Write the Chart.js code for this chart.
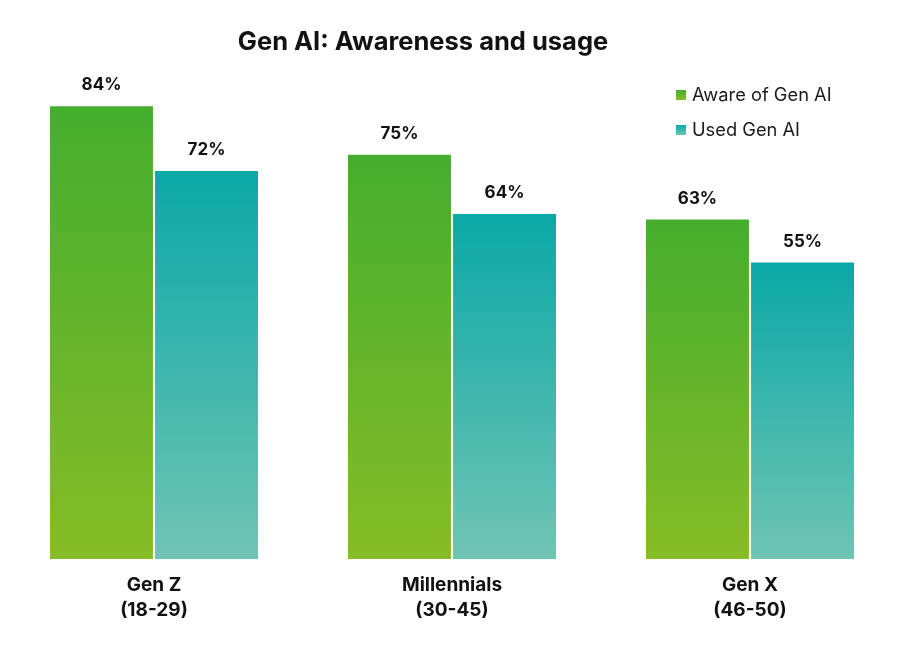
<!DOCTYPE html>
<html>
<head>
<meta charset="utf-8">
<script src="https://cdn.jsdelivr.net/npm/chart.js@4.4.1/dist/chart.umd.min.js"></script>
<style>
    html, body { margin: 0; padding: 0; background: #ffffff; }
    #wrap { width: 900px; height: 646px; }
</style>
</head>
<body>
<div id="wrap"><canvas id="myChart" width="900" height="646"></canvas></div>
<script>
var categories = [["Gen Z", "(18-29)"], ["Millennials", "(30-45)"], ["Gen X", "(46-50)"]];
var seriesNames = ["Aware of Gen AI", "Used Gen AI"];
var awareValues = [84, 75, 63];
var usedValues = [72, 64, 55];
var chartTitle = "Gen AI: Awareness and usage";

var FONT = "Inter, 'Liberation Sans', Arial, sans-serif";

//colours top -> bottom of each bar
var awareTop = "#44ae2d", awareBottom = "#86bc27";
var usedTop = "#0aa8a7", usedBottom = "#70c4b4";

function barGradient(context, topColor, bottomColor) {
    var chart = context.chart;
    var area = chart.chartArea;
    if (!area || context.raw === undefined) {
        return topColor;
    }
    var yTop = chart.scales.y.getPixelForValue(context.raw);
    var g = chart.ctx.createLinearGradient(0, yTop, 0, area.bottom);
    g.addColorStop(0, topColor);
    g.addColorStop(1, bottomColor);
    return g;
}

//values above the bars, title and legend
var overlayPlugin = {
    id: "overlay",
    afterDatasetsDraw: function (chart) {
        var ctx = chart.ctx;
        ctx.save();
        ctx.fillStyle = "#111111";
        ctx.font = "bold 17px " + FONT;
        ctx.textAlign = "center";
        ctx.textBaseline = "middle";
        chart.data.datasets.forEach(function (ds, i) {
            var meta = chart.getDatasetMeta(i);
            meta.data.forEach(function (bar, j) {
                ctx.fillText(ds.data[j] + "%", bar.x, bar.y - 21);
            });
        });

        ctx.font = "bold 25.5px " + FONT;
        ctx.fillText(chartTitle, 423, 42);

        var swatch = [awareBottom, usedBottom];
        var swatchTop = [awareTop, usedTop];
        ctx.font = "18.3px " + FONT;
        ctx.textAlign = "left";
        for (var k = 0; k < seriesNames.length; k++) {
            var y = 95 + k * 35;
            var g = ctx.createLinearGradient(0, y - 5, 0, y + 5);
            g.addColorStop(0, swatchTop[k]);
            g.addColorStop(1, swatch[k]);
            ctx.fillStyle = g;
            ctx.fillRect(676, y - 5, 10, 10);
            ctx.fillStyle = "#1a1a1a";
            ctx.fillText(seriesNames[k], 692, y + 1);
        }
        ctx.restore();
    }
};

var chart = new Chart(document.getElementById("myChart"), {
    type: "bar",
    data: {
        labels: categories,
        datasets: [{
            label: seriesNames[0],
            data: awareValues,
            backgroundColor: function (c) { return barGradient(c, awareTop, awareBottom); },
            borderWidth: 0,
            categoryPercentage: 0.705,
            barPercentage: 0.98
        }, {
            label: seriesNames[1],
            data: usedValues,
            backgroundColor: function (c) { return barGradient(c, usedTop, usedBottom); },
            borderWidth: 0,
            categoryPercentage: 0.705,
            barPercentage: 0.98
        }]
    },
    options: {
        responsive: false,
        animation: false,
        layout: { padding: { left: 5, right: 1, top: 74, bottom: 17 } },
        plugins: {
            legend: { display: false },
            title: { display: false },
            tooltip: { enabled: false }
        },
        scales: {
            x: {
                grid: { display: false },
                border: { display: false },
                ticks: {
                    color: "#111111",
                    padding: 6,
                    font: { family: FONT, size: 19, weight: "bold", lineHeight: 1.316 }
                }
            },
            y: {
                display: false,
                min: 0,
                max: 90
            }
        }
    },
    plugins: [overlayPlugin]
});
</script>
</body>
</html>
